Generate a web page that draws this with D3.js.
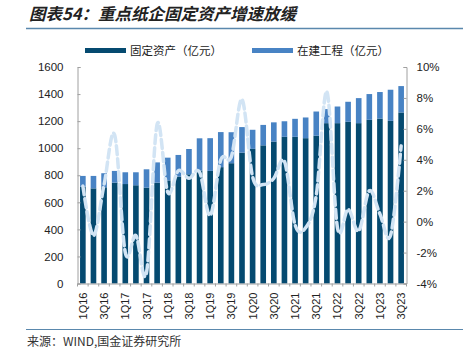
<!DOCTYPE html>
<html>
<head>
<meta charset="utf-8">
<script src="https://cdn.jsdelivr.net/npm/d3@7"></script>
<style>
  body { margin: 0; background: #fff; }
  text { font-family: 'Liberation Sans', Arial, sans-serif; }
  .cjk { font-family: 'Noto Sans CJK SC', sans-serif; }
</style>
</head>
<body>
<svg width="463" height="353"></svg>
<script>
const quarters = [
  '1Q16', '2Q16', '3Q16', '4Q16', '1Q17', '2Q17', '3Q17', '4Q17',
  '1Q18', '2Q18', '3Q18', '4Q18', '1Q19', '2Q19', '3Q19', '4Q19',
  '1Q20', '2Q20', '3Q20', '4Q20', '1Q21', '2Q21', '3Q21', '4Q21',
  '1Q22', '2Q22', '3Q22', '4Q22', '1Q23', '2Q23', '3Q23'
]
// 固定资产（亿元）
const fixedAssets = [
  715, 703, 711, 745, 735, 726, 708, 745, 762, 790, 807, 835, 832, 860, 889, 967,
  995, 1021, 1049, 1084, 1084, 1074, 1092, 1185, 1185, 1195, 1185, 1210, 1219, 1202, 1264
]
// 在建工程（亿元）
const construction = [
  80, 92, 104, 87, 87, 96, 136, 150, 168, 160, 187, 238, 242, 259, 229, 189,
  141, 151, 142, 115, 133, 153, 179, 104, 123, 148, 185, 190, 196, 230, 195
]
// growth rate line (right axis, %)
const growth = [
  2.3, -0.9, 2.4, 5.6, -2.0, -0.9, -3.3, 6.3, 1.9, 3.3, 2.8, 3.2, 0.4, 4.0, 4.2, 7.9,
  2.9, 2.4, 2.8, 3.9, -0.2, -0.4, 1.7, 8.4, -0.4, 0.8, -0.6, 2.0, 0.5, -0.9, 4.9
]
const leftTicks = [0, 200, 400, 600, 800, 1000, 1200, 1400, 1600]
const rightTicks = [-4, -2, 0, 2, 4, 6, 8, 10]

const svg = d3.select('svg')
const plot = { left: 77.5, right: 406.5, top: 67, bottom: 283.5 }
const darkBlue = '#054a70'
const lightBlue = '#4883c4'
const lineBlue = '#d2e4f4'
const axisGrey = '#a0a0a0'

svg.append('rect').attr('width', 463).attr('height', 353).attr('fill', '#fff')

// Title
svg.append('text')
  .attr('class', 'cjk')
  .attr('x', 29)
  .attr('y', 20)
  .attr('font-size', 16.5)
  .attr('font-weight', 'bold')
  .attr('font-style', 'italic')
  .attr('fill', '#222')
  .text('图表54：重点纸企固定资产增速放缓')

svg.append('line')
  .attr('x1', 26).attr('x2', 463)
  .attr('y1', 28.5).attr('y2', 28.5)
  .attr('stroke', '#5a88ad').attr('stroke-width', 1.5)

// Scales
const x = d3.scaleBand()
  .domain(quarters)
  .range([plot.left, plot.right])
  .paddingInner(0.47)
  .paddingOuter(0.24)
const yLeft = d3.scaleLinear().domain([0, 1600]).range([plot.bottom, plot.top])
const yRight = d3.scaleLinear().domain([-4, 10]).range([plot.bottom, plot.top])

// Bars
const stacked = quarters.map((q, i) => ({ q, fa: fixedAssets[i], cip: construction[i] }))

svg.append('g')
  .selectAll('rect')
  .data(stacked)
  .enter()
  .append('rect')
  .attr('x', d => x(d.q))
  .attr('width', x.bandwidth())
  .attr('y', d => yLeft(d.fa))
  .attr('height', d => yLeft(0) - yLeft(d.fa))
  .attr('fill', darkBlue)

svg.append('g')
  .selectAll('rect')
  .data(stacked)
  .enter()
  .append('rect')
  .attr('x', d => x(d.q))
  .attr('width', x.bandwidth())
  .attr('y', d => yLeft(d.fa + d.cip))
  .attr('height', d => yLeft(d.fa) - yLeft(d.fa + d.cip))
  .attr('fill', lightBlue)

// Dashed smooth line
const line = d3.line()
  .x((d, i) => x(quarters[i]) + x.bandwidth() / 2)
  .y(d => yRight(d))
  .curve(d3.curveCatmullRom.alpha(0))

svg.append('path')
  .datum(growth)
  .attr('d', line)
  .attr('fill', 'none')
  .attr('stroke', lineBlue)
  .attr('stroke-width', 3.5)
  .attr('stroke-dasharray', '9,4')
  .attr('stroke-linecap', 'round')

// Axes
const leftAxis = svg.append('g')
  .attr('transform', `translate(${plot.left},0)`)
  .call(d3.axisLeft(yLeft).tickValues(leftTicks).tickSize(-3).tickPadding(14)
    .tickFormat(d3.format('d')))
const rightAxis = svg.append('g')
  .attr('transform', `translate(${plot.right},0)`)
  .call(d3.axisRight(yRight).tickValues(rightTicks).tickSize(-3).tickPadding(10)
    .tickFormat(d => d + '%'))

;[leftAxis, rightAxis].forEach(a => {
  a.select('.domain').attr('stroke', axisGrey)
  a.selectAll('.tick line').attr('stroke', axisGrey)
  a.selectAll('text')
    .attr('font-size', 11.5)
    .attr('fill', '#222')
    .attr('font-family', "'Liberation Sans', Arial, sans-serif")
})

const bottomAxis = svg.append('g')
  .attr('transform', `translate(0,${plot.bottom})`)
  .call(d3.axisBottom(x).tickSize(0).tickFormat(''))
bottomAxis.select('.domain').attr('stroke', axisGrey)

// boundary tick marks between bars
svg.append('g')
  .selectAll('line')
  .data(quarters.concat(['end']))
  .enter()
  .append('line')
  .attr('x1', (d, i) => plot.left + i * (plot.right - plot.left) / quarters.length)
  .attr('x2', (d, i) => plot.left + i * (plot.right - plot.left) / quarters.length)
  .attr('y1', plot.bottom)
  .attr('y2', plot.bottom + 3)
  .attr('stroke', axisGrey)

// x labels every other quarter, rotated
svg.append('g')
  .selectAll('text')
  .data(quarters.filter((q, i) => i % 2 === 0))
  .enter()
  .append('text')
  .attr('transform', d => `translate(${x(d) + x.bandwidth() / 2 + 4},${plot.bottom + 9}) rotate(-90)`)
  .attr('text-anchor', 'end')
  .attr('font-size', 11)
  .attr('fill', '#222')
  .text(d => d)

// Legend
const legendItems = [
  { name: '固定资产（亿元）', color: darkBlue, x: 85 },
  { name: '在建工程（亿元）', color: lightBlue, x: 252 }
]
const legend = svg.append('g')
legend.selectAll('rect')
  .data(legendItems)
  .enter()
  .append('rect')
  .attr('x', d => d.x)
  .attr('y', 48)
  .attr('width', 41)
  .attr('height', 5)
  .attr('fill', d => d.color)
legend.selectAll('text')
  .data(legendItems)
  .enter()
  .append('text')
  .attr('class', 'cjk')
  .attr('x', d => d.x + 45)
  .attr('y', 55)
  .attr('font-size', 11.5)
  .attr('fill', '#222')
  .text(d => d.name)

// Source
svg.append('line')
  .attr('x1', 26).attr('x2', 463)
  .attr('y1', 329.5).attr('y2', 329.5)
  .attr('stroke', '#5a88ad').attr('stroke-width', 1.2)

svg.append('text')
  .attr('class', 'cjk')
  .attr('x', 27)
  .attr('y', 346)
  .attr('font-size', 12)
  .attr('fill', '#333')
  .text('来源：WIND,国金证券研究所')
</script>
</body>
</html>
